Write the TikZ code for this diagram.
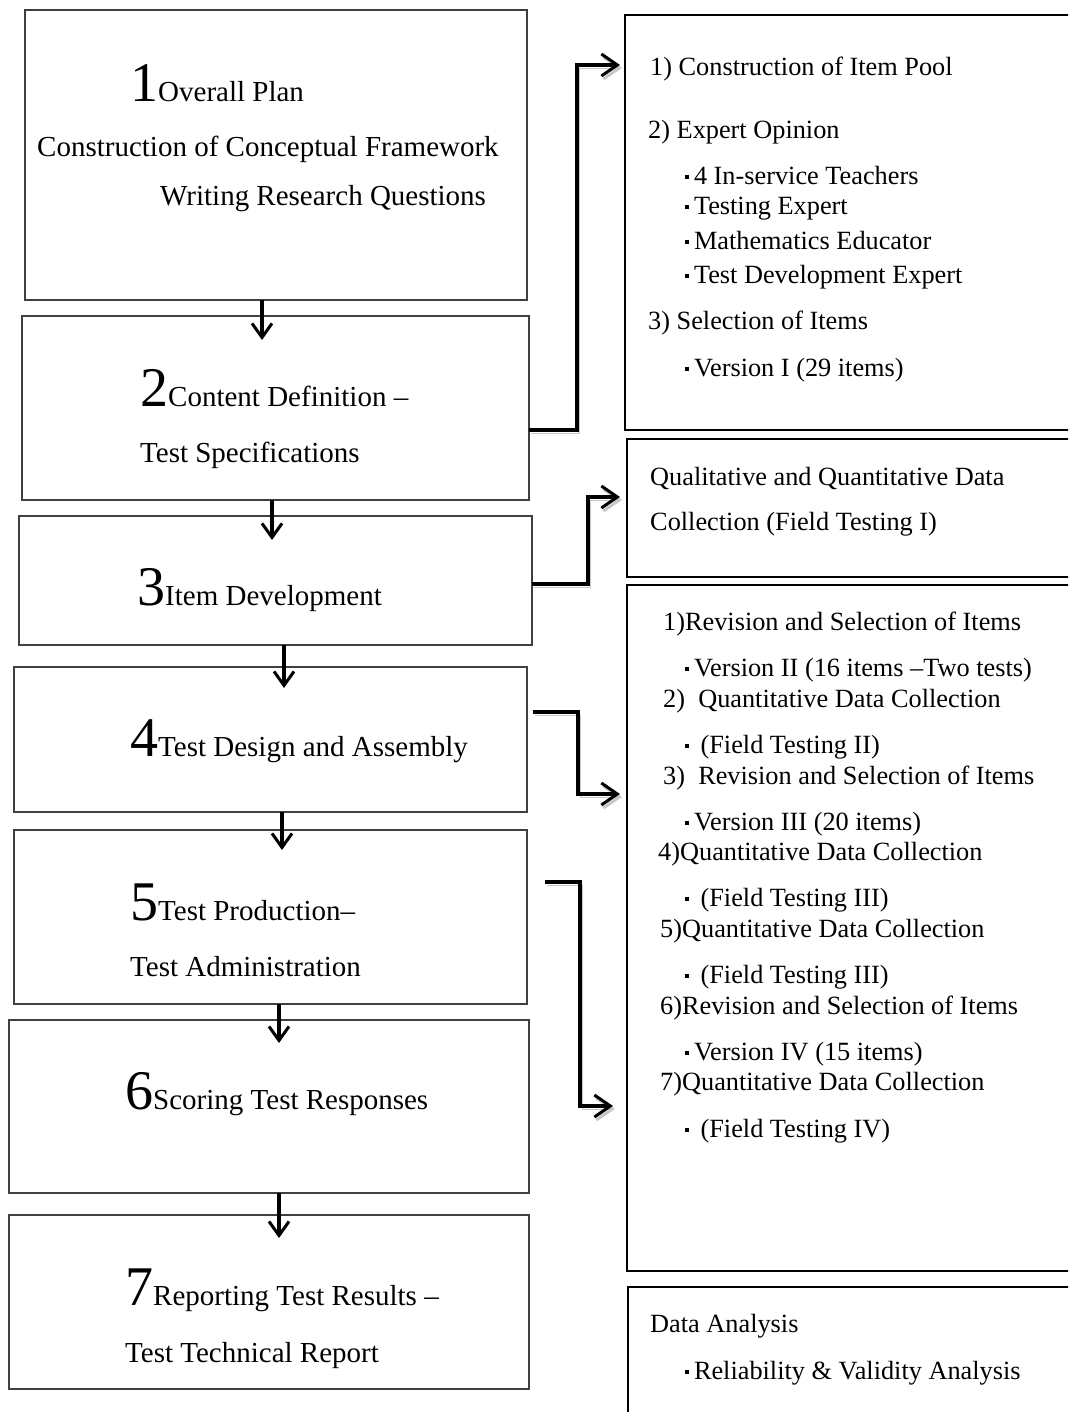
\documentclass[tikz,border=0pt]{standalone}
\usepackage{fontspec}
\setmainfont{Liberation Serif}
\usetikzlibrary{arrows.meta,calc}

\newcommand{\sqb}{\raisebox{0.45ex}{\rule{3.8pt}{3.8pt}}\hspace{5pt}}
\newcommand{\bignum}[1]{{\fontsize{56}{56}\selectfont #1}}

\begin{document}
\begin{tikzpicture}[x=1pt, y=-1pt,
  lbox/.style={draw=black!75, line width=1.3pt, anchor=north west, inner sep=0pt, outer sep=0pt},
  rbox/.style={draw=black, line width=1.8pt, anchor=north west, inner sep=0pt, outer sep=0pt},
  ltxt/.style={anchor=mid west, inner sep=0pt, font=\fontsize{29}{34}\selectfont},
  rtxt/.style={anchor=mid west, inner sep=0pt, font=\fontsize{26.3}{30}\selectfont},
  down/.style={draw=black, line width=3.5pt, -{Straight Barb[length=14pt,width=20pt,line width=3pt]}},
  conn/.style={draw=black, line width=3.5pt, -{Straight Barb[length=16pt,width=22pt,line width=3pt]},
    preaction={draw=black!22, transform canvas={shift={(2pt,-3pt)}}}}
]
\useasboundingbox (0,0) rectangle (1068,1412);
\clip (0,0) rectangle (1068,1412);

% left column: the seven steps
\node[lbox, minimum width=502pt, minimum height=290pt] (plan) at (25,10) {};
\node[lbox, minimum width=507pt, minimum height=184pt] (spec) at (22,316) {};
\node[lbox, minimum width=513pt, minimum height=129pt] (item) at (19,516) {};
\node[lbox, minimum width=513pt, minimum height=145pt] (design) at (14,667) {};
\node[lbox, minimum width=513pt, minimum height=174pt] (admin) at (14,830) {};
\node[lbox, minimum width=520pt, minimum height=173pt] (score) at (9,1020) {};
\node[lbox, minimum width=520pt, minimum height=174pt] (report) at (9,1215) {};

\node[ltxt] (t1a) at (130,99) {\bignum{1}Overall Plan};
\node[ltxt] (t1b) at (37,154) {Construction of Conceptual Framework};
\node[ltxt] (t1c) at (160,203) {Writing Research Questions};
\node[ltxt] (t2a) at (140,404) {\bignum{2}Content Definition --};
\node[ltxt] (t2b) at (140,460) {Test Specifications};
\node[ltxt] (t3) at (137,603) {\bignum{3}Item Development};
\node[ltxt] (t4) at (130,754) {\bignum{4}Test Design and Assembly};
\node[ltxt] (t5a) at (130,918) {\bignum{5}Test Production--};
\node[ltxt] (t5b) at (130,974) {Test Administration};
\node[ltxt] (t6) at (125,1107) {\bignum{6}Scoring Test Responses};
\node[ltxt] (t7a) at (125,1303) {\bignum{7}Reporting Test Results --};
\node[ltxt] (t7b) at (125,1360) {Test Technical Report};

\draw[down] ($(plan.south)+(-14,0)$) -- ($(plan.south |- spec.north)+(-14,24)$);
\draw[down] ($(spec.south)+(-3.5,0)$) -- ($(spec.south |- item.north)+(-3.5,24)$);
\draw[down] ($(item.south)+(8.5,0)$) -- ($(item.south |- design.north)+(8.5,21)$);
\draw[down] ($(design.south)+(11.5,0)$) -- ($(design.south |- admin.north)+(11.5,20)$);
\draw[down] ($(admin.south)+(8.5,0)$) -- ($(admin.south |- score.north)+(8.5,23)$);
\draw[down] ($(score.south)+(10,0)$) -- ($(score.south |- report.north)+(10,23)$);

% right column: details
\node[rbox, minimum width=460pt, minimum height=415pt] (pool) at (625,15) {};
\node[rbox, minimum width=460pt, minimum height=138pt] (qual) at (627,439) {};
\node[rbox, minimum width=460pt, minimum height=686pt] (rev) at (627,585) {};
\node[rbox, minimum width=460pt, minimum height=200pt] (anal) at (628,1287) {};

\node[rtxt] (p1) at (650,73) {1) Construction of Item Pool};
\node[rtxt] (p2) at (648,136) {2) Expert Opinion};
\node[rtxt] (p2a) at (685,182) {\sqb 4 In-service Teachers};
\node[rtxt] (p2b) at (685,212) {\sqb Testing Expert};
\node[rtxt] (p2c) at (685,247) {\sqb Mathematics Educator};
\node[rtxt] (p2d) at (685,281) {\sqb Test Development Expert};
\node[rtxt] (p3) at (648,327) {3) Selection of Items};
\node[rtxt] (p3a) at (685,374) {\sqb Version I (29 items)};

\node[rtxt] (q1) at (650,483) {Qualitative and Quantitative Data};
\node[rtxt] (q2) at (650,528) {Collection (Field Testing I)};

\node[rtxt] (r1) at (663,628) {1)Revision and Selection of Items};
\node[rtxt] (r1a) at (685,674) {\sqb Version II (16 items --Two tests)};
\node[rtxt] (r2) at (663,705) {2) \ Quantitative Data Collection};
\node[rtxt] (r2a) at (685,751) {\sqb\ (Field Testing II)};
\node[rtxt] (r3) at (663,782) {3) \ Revision and Selection of Items};
\node[rtxt] (r3a) at (685,828) {\sqb Version III (20 items)};
\node[rtxt] (r4) at (658,858) {4)Quantitative Data Collection};
\node[rtxt] (r4a) at (685,904) {\sqb\ (Field Testing III)};
\node[rtxt] (r5) at (660,935) {5)Quantitative Data Collection};
\node[rtxt] (r5a) at (685,981) {\sqb\ (Field Testing III)};
\node[rtxt] (r6) at (660,1012) {6)Revision and Selection of Items};
\node[rtxt] (r6a) at (685,1058) {\sqb Version IV (15 items)};
\node[rtxt] (r7) at (660,1088) {7)Quantitative Data Collection};
\node[rtxt] (r7a) at (685,1135) {\sqb\ (Field Testing IV)};

\node[rtxt] (d1) at (650,1330) {Data Analysis};
\node[rtxt] (d1a) at (685,1377) {\sqb Reliability \& Validity Analysis};

% elbow connectors
\draw[conn] ($(spec.east)+(0,22)$) -- ++(48,0) |- ($(pool.north west)+(-5,50)$);
\draw[conn] ($(item.east)+(0,3.5)$) -- ++(56,0) |- ($(qual.west)+(-7,-11)$);
\draw[conn] ($(design.east)+(6,-27.5)$) -- ++(45,0) |- ($(rev.north west)+(-7,209)$);
\draw[conn] ($(admin.east)+(18,-35)$) -- ++(35,0) |- ($(rev.north west)+(-14,521)$);

\end{tikzpicture}
\end{document}
